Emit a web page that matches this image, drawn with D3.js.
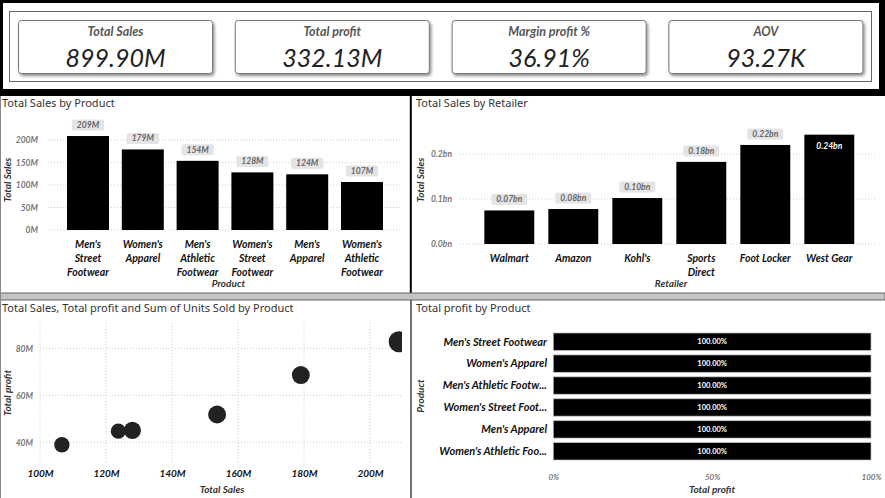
<!DOCTYPE html>
<html>
<head>
<meta charset="utf-8">
<script src="https://cdn.jsdelivr.net/npm/d3@7"></script>
<style>
  body { margin: 0; background: #fff; }
  text { font-family: Lato, "Noto Sans", sans-serif; }
  .title { font-family: "Noto Sans", sans-serif; font-size: 11px; fill: #333; }
  .tick-lbl { font-style: italic; font-weight: 700; font-size: 8.5px; fill: #777; }
  .cat-lbl { font-style: italic; font-weight: 700; font-size: 10.5px; fill: #111; }
  .ax-title { font-style: italic; font-weight: 700; font-size: 10px; fill: #333; }
  .grid { stroke: #cfcfcf; stroke-dasharray: 1,2; }
</style>
</head>
<body>
<div id="chart"></div>
<script>
// KPI cards
const kpiTitles = ['Total Sales', 'Total profit', 'Margin profit %', 'AOV'];
const kpiValues = ['899.90M', '332.13M', '36.91%', '93.27K'];

// products
const products = ["Men's Street Footwear", "Women's Apparel", "Men's Athletic Footwear",
  "Women's Street Footwear", "Men's Apparel", "Women's Athletic Footwear"];
const productSales = [208.83e6, 179.04e6, 153.67e6, 128.00e6, 123.73e6, 106.63e6];
const productProfit = [82.80e6, 68.65e6, 51.85e6, 45.10e6, 44.76e6, 38.98e6];
const productUnits = [593320, 433827, 435526, 392269, 306683, 317236];
const profitShare = [100, 100, 100, 100, 100, 100];

// retailers
const retailers = ['Walmart', 'Amazon', "Kohl's", 'Sports Direct', 'Foot Locker', 'West Gear'];
const retailerSales = [74.56e6, 77.70e6, 102.11e6, 182.47e6, 220.09e6, 242.96e6];

// ticks
const salesTicks = [0, 50e6, 100e6, 150e6, 200e6];
const retailTicks = [0, 0.1e9, 0.2e9];
const scatterXTicks = [100e6, 120e6, 140e6, 160e6, 180e6, 200e6];
const scatterYTicks = [40e6, 60e6, 80e6];
const shareTicks = [0, 50, 100];

const W = 885, H = 498;
const svg = d3.select('#chart').append('svg').attr('width', W).attr('height', H);

// wrap long category labels onto several lines
function wrap(sel, width, lh) {
  sel.each(function() {
    const text = d3.select(this);
    const words = text.text().split(/\s+/);
    const x = text.attr('x');
    text.text(null);
    let line = [];
    let tspan = text.append('tspan').attr('x', x).attr('dy', 0);
    for (let w of words) {
      line.push(w);
      tspan.text(line.join(' '));
      if (tspan.node().getComputedTextLength() > width && line.length > 1) {
        line.pop();
        tspan.text(line.join(' '));
        line = [w];
        tspan = text.append('tspan').attr('x', x).attr('dy', lh).text(w);
      }
    }
  });
}

function truncate(sel, width) {
  sel.each(function() {
    const t = d3.select(this);
    let s = t.text();
    if (this.getComputedTextLength() <= width) return;
    while (s.length > 1) {
      s = s.slice(0, -1);
      t.text(s.trimEnd() + '...');
      if (this.getComputedTextLength() <= width) break;
    }
  });
}

// ---------- KPI strip ----------
svg.append('rect').attr('x', 0).attr('y', 0).attr('width', W).attr('height', 96).attr('fill', '#000');
svg.append('rect').attr('x', 3).attr('y', 3).attr('width', 876).attr('height', 86).attr('fill', '#fff');
svg.append('rect').attr('x', 9.5).attr('y', 11.5).attr('width', 862).attr('height', 70)
  .attr('fill', 'none').attr('stroke', '#666');

const defs = svg.append('defs');
defs.append('filter').attr('id', 'shadow').attr('x', '-10%').attr('y', '-10%').attr('width', '130%').attr('height', '140%')
  .append('feDropShadow').attr('dx', 1.5).attr('dy', 2).attr('stdDeviation', 1.5).attr('flood-color', '#000').attr('flood-opacity', 0.45);

const cards = svg.selectAll('.card')
  .data(kpiTitles)
  .enter()
  .append('g')
  .attr('class', 'card')
  .attr('transform', (d, i) => `translate(${18.5 + i * 216.8}, 20.5)`);

cards.append('rect')
  .attr('width', 194).attr('height', 53).attr('rx', 3)
  .attr('fill', '#fff').attr('stroke', '#777')
  .attr('filter', 'url(#shadow)');

cards.append('text')
  .text(d => d)
  .attr('x', 97).attr('y', 15)
  .attr('text-anchor', 'middle')
  .style('font-style', 'italic').style('font-weight', 700).style('font-size', '12.5px').style('fill', '#555');

cards.append('text')
  .text((d, i) => kpiValues[i])
  .attr('x', 97).attr('y', 46.5)
  .attr('text-anchor', 'middle')
  .style('font-style', 'italic').style('font-size', '25px').style('fill', '#222');

// ---------- panel frames ----------
svg.append('line').attr('x1', 410.8).attr('x2', 410.8).attr('y1', 96).attr('y2', 293)
  .attr('stroke', '#000').attr('stroke-width', 2);
svg.append('rect').attr('x', 0).attr('y', 293).attr('width', W).attr('height', 7)
  .attr('fill', '#c4c4c4').attr('stroke', '#666').attr('stroke-width', 1);
svg.append('line').attr('x1', 411).attr('x2', 411).attr('y1', 300).attr('y2', H)
  .attr('stroke', '#444').attr('stroke-width', 1.5);
svg.append('line').attr('x1', 0.5).attr('x2', 0.5).attr('y1', 96).attr('y2', H)
  .attr('stroke', '#888');

// label with grey pill behind it
function pill(g, x, y, txt) {
  const t = g.append('text').text(txt)
    .attr('x', x).attr('y', y)
    .attr('text-anchor', 'middle')
    .style('font-style', 'italic').style('font-weight', 700).style('font-size', '8.5px').style('fill', '#666');
  const w = t.node().getComputedTextLength() + 10;
  g.insert('rect', 'text')
    .attr('x', x - w / 2).attr('y', y - 8.5).attr('width', w).attr('height', 11)
    .attr('rx', 2).attr('fill', '#e4e4e4');
}

// ---------- Total Sales by Product ----------
{
  const g = svg.append('g');
  g.append('text').attr('class', 'title').attr('x', 2).attr('y', 107).text('Total Sales by Product');

  const x = d3.scaleBand().domain(products).range([60.6, 389.4]).paddingInner(0.234).paddingOuter(0.117);
  const y = d3.scaleLinear().domain([0, 200e6]).range([230, 140]);

  g.selectAll('.grid').data(salesTicks).enter().append('line')
    .attr('class', 'grid')
    .attr('x1', 48).attr('x2', 400)
    .attr('y1', d => y(d)).attr('y2', d => y(d));

  const yAxis = g.append('g').attr('transform', 'translate(38,0)')
    .call(d3.axisLeft(y).tickValues(salesTicks).tickSize(0).tickFormat(d => (d / 1e6) + 'M'));
  yAxis.select('.domain').remove();
  yAxis.selectAll('text').attr('class', 'tick-lbl').attr('x', 0).attr('dy', '0.32em');

  g.selectAll('.bar').data(products).enter().append('rect')
    .attr('x', d => x(d))
    .attr('y', (d, i) => y(productSales[i]))
    .attr('width', x.bandwidth())
    .attr('height', (d, i) => y(0) - y(productSales[i]))
    .attr('fill', '#000');

  products.forEach((d, i) => {
    pill(g.append('g'), x(d) + x.bandwidth() / 2, y(productSales[i]) - 8, Math.round(productSales[i] / 1e6) + 'M');
  });

  g.selectAll('.cat').data(products).enter().append('text')
    .attr('class', 'cat-lbl')
    .attr('x', d => x(d) + x.bandwidth() / 2)
    .attr('y', 248)
    .attr('text-anchor', 'middle')
    .text(d => d)
    .call(wrap, x.step() - 4, 13.8);

  g.append('text').attr('class', 'ax-title').attr('x', x(products[3]) - 3).attr('y', 287)
    .attr('text-anchor', 'middle').text('Product');
  g.append('text').attr('class', 'ax-title')
    .attr('transform', 'translate(11,180) rotate(-90)')
    .attr('text-anchor', 'middle').text('Total Sales');
}

// ---------- Total Sales by Retailer ----------
{
  const g = svg.append('g');
  g.append('text').attr('class', 'title').attr('x', 416).attr('y', 107).text('Total Sales by Retailer');

  const x = d3.scaleBand().domain(retailers).range([477.3, 861.3]).paddingInner(0.22).paddingOuter(0.11);
  const y = d3.scaleLinear().domain([0, 0.2e9]).range([244, 154]);

  g.selectAll('.grid').data(retailTicks).enter().append('line')
    .attr('class', 'grid')
    .attr('x1', 460).attr('x2', 877)
    .attr('y1', d => y(d)).attr('y2', d => y(d));

  const yAxis = g.append('g').attr('transform', 'translate(452,0)')
    .call(d3.axisLeft(y).tickValues(retailTicks).tickSize(0).tickFormat(d => (d / 1e9).toFixed(1) + 'bn'));
  yAxis.select('.domain').remove();
  yAxis.selectAll('text').attr('class', 'tick-lbl').attr('x', 0).attr('dy', '0.32em');

  g.selectAll('.bar').data(retailers).enter().append('rect')
    .attr('x', d => x(d))
    .attr('y', (d, i) => y(retailerSales[i]))
    .attr('width', x.bandwidth())
    .attr('height', (d, i) => y(0) - y(retailerSales[i]))
    .attr('fill', '#000');

  retailers.forEach((d, i) => {
    const cx = x(d) + x.bandwidth() / 2;
    const top = y(retailerSales[i]);
    const lbl = (retailerSales[i] / 1e9).toFixed(2) + 'bn';
    if (top - 15 < 125) {
      // no room above: label goes inside the bar
      g.append('text').text(lbl).attr('x', cx).attr('y', top + 14)
        .attr('text-anchor', 'middle')
        .style('font-style', 'italic').style('font-weight', 700).style('font-size', '8.5px').style('fill', '#fff');
    } else {
      pill(g.append('g'), cx, top - 8, lbl);
    }
  });

  g.selectAll('.cat').data(retailers).enter().append('text')
    .attr('class', 'cat-lbl')
    .attr('x', d => x(d) + x.bandwidth() / 2)
    .attr('y', 262)
    .attr('text-anchor', 'middle')
    .text(d => d)
    .call(wrap, x.bandwidth() + 6, 13.8);

  g.append('text').attr('class', 'ax-title').attr('x', 671).attr('y', 287)
    .attr('text-anchor', 'middle').text('Retailer');
  g.append('text').attr('class', 'ax-title')
    .attr('transform', 'translate(424,180) rotate(-90)')
    .attr('text-anchor', 'middle').text('Total Sales');
}

// ---------- Scatter ----------
{
  const g = svg.append('g');
  g.append('text').attr('class', 'title').attr('x', 2).attr('y', 312)
    .text('Total Sales, Total profit and Sum of Units Sold by Product');

  const x = d3.scaleLinear().domain([100e6, 209.7e6]).range([40, 402]);
  const y = d3.scaleLinear().domain([31.2e6, 90.8e6]).range([463, 323]);
  const r = d3.scaleSqrt().domain([0, d3.max(productUnits)]).range([0, 10.5]);

  g.selectAll('.vgrid').data(scatterXTicks).enter().append('line')
    .attr('class', 'grid')
    .attr('x1', d => x(d)).attr('x2', d => x(d))
    .attr('y1', 323).attr('y2', 463);
  g.selectAll('.hgrid').data(scatterYTicks).enter().append('line')
    .attr('class', 'grid')
    .attr('x1', 40).attr('x2', 402)
    .attr('y1', d => y(d)).attr('y2', d => y(d));

  const yAxis = g.append('g').attr('transform', 'translate(33,0)')
    .call(d3.axisLeft(y).tickValues(scatterYTicks).tickSize(0).tickFormat(d => (d / 1e6) + 'M'));
  yAxis.select('.domain').remove();
  yAxis.selectAll('text').attr('class', 'tick-lbl').attr('x', 0).attr('dy', '0.32em');

  const xAxis = g.append('g').attr('transform', 'translate(0,477)')
    .call(d3.axisBottom(x).tickValues(scatterXTicks).tickSize(0).tickFormat(d => (d / 1e6) + 'M'));
  xAxis.select('.domain').remove();
  xAxis.selectAll('text').attr('class', 'cat-lbl').style('font-size', '10px').attr('y', 0).attr('dy', 0);

  defs.append('clipPath').attr('id', 'scClip')
    .append('rect').attr('x', 12).attr('y', 315).attr('width', 390).attr('height', 160);

  g.append('g').attr('clip-path', 'url(#scClip)')
    .selectAll('circle').data(products).enter().append('circle')
    .attr('cx', (d, i) => x(productSales[i]))
    .attr('cy', (d, i) => y(productProfit[i]))
    .attr('r', (d, i) => r(productUnits[i]))
    .attr('fill', '#222');

  g.append('text').attr('class', 'ax-title').attr('x', 222).attr('y', 493)
    .attr('text-anchor', 'middle').text('Total Sales');
  g.append('text').attr('class', 'ax-title')
    .attr('transform', 'translate(11,393) rotate(-90)')
    .attr('text-anchor', 'middle').text('Total profit');
}

// ---------- Total profit by Product ----------
{
  const g = svg.append('g');
  g.append('text').attr('class', 'title').attr('x', 416).attr('y', 312).text('Total profit by Product');

  const x = d3.scaleLinear().domain([0, 100]).range([553.3, 871]);
  const y = d3.scaleBand().domain(products).range([330.7, 462.3]).paddingInner(0.21).paddingOuter(0.105);

  g.selectAll('.bar').data(products).enter().append('rect')
    .attr('x', x(0))
    .attr('y', d => y(d))
    .attr('width', (d, i) => x(profitShare[i]) - x(0))
    .attr('height', y.bandwidth())
    .attr('fill', '#000').attr('stroke', '#bbb').attr('stroke-width', 0.7);

  g.selectAll('.val').data(products).enter().append('text')
    .attr('x', (d, i) => x(profitShare[i] / 2))
    .attr('y', d => y(d) + y.bandwidth() / 2)
    .attr('dy', '0.35em')
    .attr('text-anchor', 'middle')
    .style('font-size', '7.5px').style('font-weight', 700).style('fill', '#fff')
    .text((d, i) => profitShare[i].toFixed(2) + '%');

  g.selectAll('.cat').data(products).enter().append('text')
    .attr('class', 'cat-lbl')
    .style('font-size', '11px')
    .attr('x', 547)
    .attr('y', d => y(d) + y.bandwidth() / 2)
    .attr('dy', '0.35em')
    .attr('text-anchor', 'end')
    .text(d => d)
    .call(truncate, 108);

  const xAxis = g.append('g').attr('transform', 'translate(0,474)')
    .call(d3.axisBottom(x).tickValues(shareTicks).tickSize(0).tickFormat(d => d + '%'));
  xAxis.select('.domain').remove();
  xAxis.selectAll('text').attr('class', 'tick-lbl').style('font-size', '8px').attr('y', 0).attr('dy', '0.71em');

  g.append('text').attr('class', 'ax-title').attr('x', 712).attr('y', 493)
    .attr('text-anchor', 'middle').text('Total profit');
  g.append('text').attr('class', 'ax-title')
    .attr('transform', 'translate(424,396) rotate(-90)')
    .attr('text-anchor', 'middle').text('Product');
}
</script>
</body>
</html>
